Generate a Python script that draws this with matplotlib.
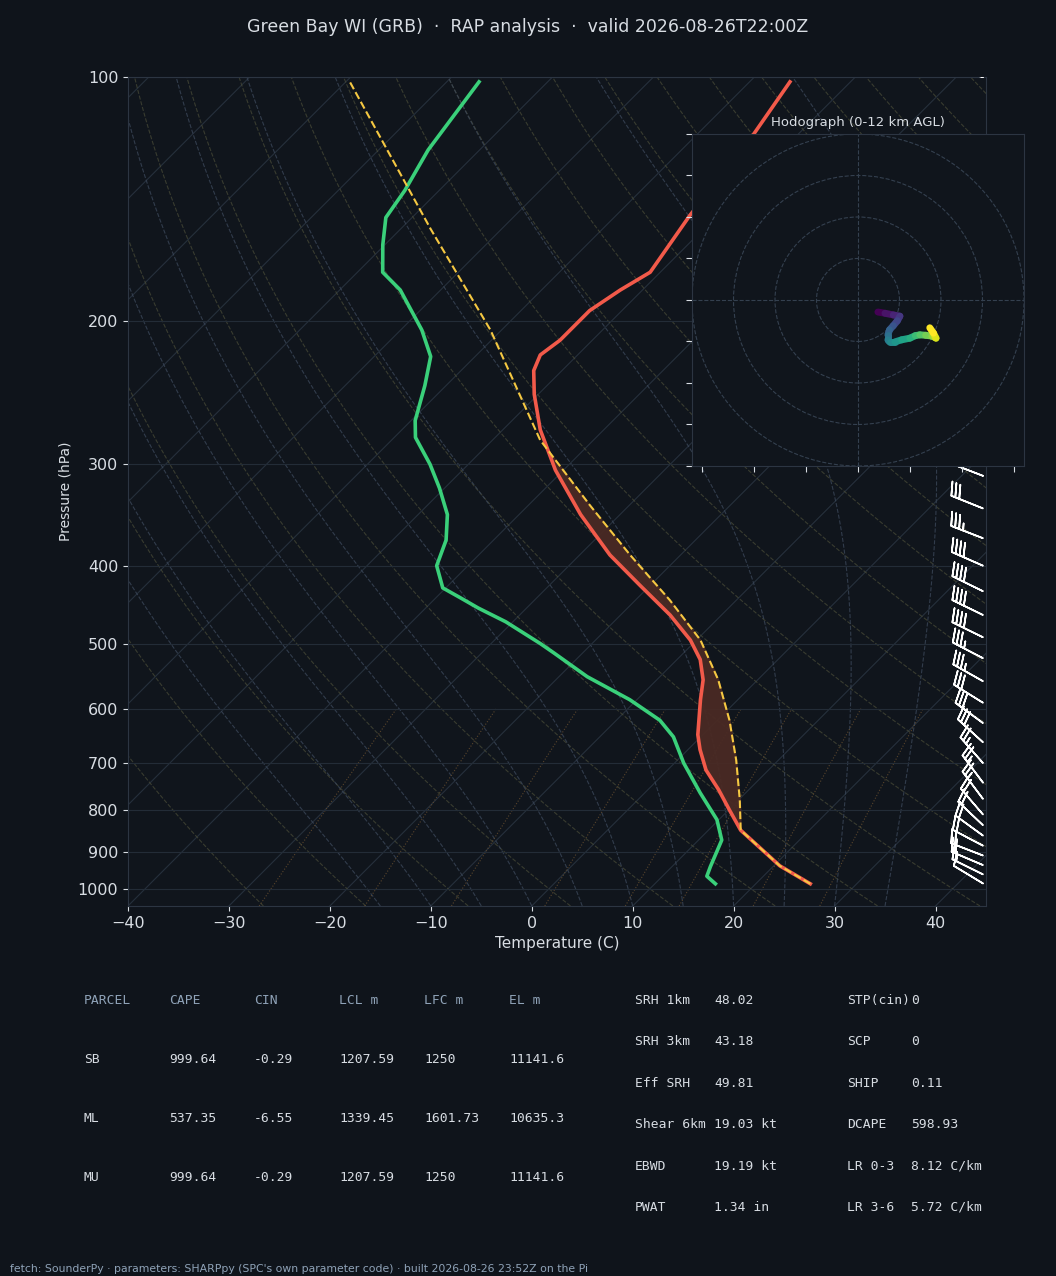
import numpy as np
import matplotlib.pyplot as plt
from matplotlib.collections import LineCollection

# sounding
pres = [986, 937, 847, 800, 755, 714, 674, 646, 585, 553, 522, 494, 460, 423, 388, 346,
        305, 272, 246, 230, 220, 211, 194, 183, 174, 148, 120, 101.4]
temp = [25.4, 20.6, 13.2, 10.1, 7.0, 3.8, 1.2, -0.5, -3.7, -5.4, -7.7, -10.6, -15.1, -21.0,
        -27.0, -33.9, -40.8, -46.3, -50.4, -52.8, -53.7, -53.2, -53.2, -52.2, -51.0, -52.7,
        -54.2, -56.0]
dp_pres = [986, 965, 939, 871, 822, 762, 700, 650, 620, 585, 548, 512, 499, 469, 451, 438,
           426, 400, 372, 346, 321, 300, 278, 265, 240, 221, 205, 183, 174, 161, 149, 138,
           123, 101.4]
dewp = [16.0, 14.4, 13.8, 12.3, 9.8, 5.5, 0.9, -2.7, -5.7, -10.7, -17.2, -22.9, -25.1,
        -30.7, -34.8, -37.6, -40.3, -43.1, -44.7, -47.1, -50.5, -53.8, -57.9, -59.6, -62.1,
        -64.4, -67.9, -74.0, -77.5, -80.2, -82.6, -83.4, -85.1, -86.8]
parcel_p = [986, 937, 847, 777, 694, 620, 553, 494, 441, 388, 337, 280, 205, 154, 101.4]
parcel_t = [25.4, 20.6, 13.2, 10.1, 5.8, 1.2, -3.9, -9.6, -16.6, -25.0, -33.9, -45.3,
            -61.1, -77.0, -99.6]

wind_p = [985, 960, 935, 910, 885, 860, 835, 810, 775, 740, 700, 660, 625, 590, 555, 520,
          490, 460, 430, 400, 370, 340, 310, 280, 250, 225, 200, 175, 150, 125, 100]
wind_u = [4.8, 6.5, 8.5, 10.1, 9.5, 8.5, 7.6, 7.2, 7.2, 7.6, 8.9, 10.5, 12.5, 13.8, 14.9,
          16.3, 17.8, 18.5, 18.8, 18.2, 17.3, 15, 13, 12, 11, 10, 9, 8, 7, 6, 5]
wind_v = [-2.9, -3.2, -3.6, -3.9, -5.0, -6.2, -7.2, -8.4, -9.6, -10.1, -10.1, -9.6, -9.2,
          -8.6, -8.4, -8.5, -8.7, -9.0, -9.2, -8.0, -6.7, -6, -5, -4, -3.5, -3, -2.5, -2,
          -1.5, -1, -1]
n_hodo = 21

parcels = ["SB", "ML", "MU"]
cols = ["PARCEL", "CAPE", "CIN", "LCL m", "LFC m", "EL m"]
rows = [["999.64", "-0.29", "1207.59", "1250", "11141.6"],
        ["537.35", "-6.55", "1339.45", "1601.73", "10635.3"],
        ["999.64", "-0.29", "1207.59", "1250", "11141.6"]]
mid_names = ["SRH 1km", "SRH 3km", "Eff SRH", "Shear 6km", "EBWD", "PWAT"]
mid_vals = ["48.02", "43.18", "49.81", "19.03 kt", "19.19 kt", "1.34 in"]
right_names = ["STP(cin)", "SCP", "SHIP", "DCAPE", "LR 0-3", "LR 3-6"]
right_vals = ["0", "0", "0.11", "598.93", "8.12 C/km", "5.72 C/km"]

BG = "#0f141b"
FG = "#d8dde3"
DIM = "#8fa3b8"
K = 34.9
PBOT = 1050.0


def skx(t, p):
    return np.asarray(t, float) + K * np.log(PBOT / np.asarray(p, float))


fig = plt.figure(figsize=(10.56, 12.76), dpi=100, facecolor=BG)
ax = fig.add_axes([0.1212, 0.29, 0.8125, 0.6497], facecolor="#10151c")
ax.set_yscale("log")
ax.set_ylim(PBOT, 100)
ax.set_xlim(-40, 45)

# background lines
pp = np.geomspace(1050, 100, 120)
for t0 in range(-120, 60, 10):
    ax.plot(skx(np.full_like(pp, t0), pp), pp, color="#26303c", lw=0.8, zorder=1)
for th in range(-30, 200, 10):
    t = (th + 273.15) * (pp / 1000) ** 0.286 - 273.15
    ax.plot(skx(t, pp), pp, color="#4a4c38", lw=0.8, ls="--", alpha=0.7, zorder=1)


def esat(t):
    return 6.112 * np.exp(17.67 * t / (t + 243.5))


for t0 in range(-15, 40, 5):
    ts = [t0]
    T = t0
    for i in range(1, len(pp)):
        Tk = T + 273.15
        rs = 0.622 * esat(T) / (pp[i - 1] - esat(T))
        dtdp = (287 * Tk + 2.5e6 * rs) / (1004 + 2.5e6 ** 2 * rs * 0.622 / (287 * Tk ** 2)) / pp[i - 1]
        T = T + dtdp * (pp[i] - pp[i - 1])
        ts.append(T)
    ax.plot(skx(ts, pp), pp, color="#3a4658", lw=0.8, ls="--", alpha=0.8, zorder=1)
pm = np.geomspace(1050, 600, 30)
for w in [0.4, 1, 2, 4, 7, 10, 16, 24]:
    e = w / 1000 * pm / (0.622 + w / 1000)
    td = 243.5 * np.log(e / 6.112) / (17.67 - np.log(e / 6.112))
    ax.plot(skx(td, pm), pm, color="#6a5030", lw=0.8, ls=":", alpha=0.8, zorder=1)

for p in [100, 200, 300, 400, 500, 600, 700, 800, 900, 1000]:
    ax.axhline(p, color="#232c37", lw=0.8, zorder=1)

# CAPE shading
pg = np.geomspace(985, 102, 400)
lp = np.log(pg)
xe = skx(np.interp(lp, np.log(pres[::-1]), temp[::-1]), pg)
xp = skx(np.interp(lp, np.log(parcel_p[::-1]), parcel_t[::-1]), pg)
ax.fill_betweenx(pg, xe, xp, where=xp > xe, color="#4a2a24", alpha=0.95, zorder=2)

ax.plot(skx(temp, pres), pres, color="#f25a4a", lw=2.6, zorder=4)
ax.plot(skx(dewp, dp_pres), dp_pres, color="#3ad07a", lw=2.6, zorder=4)
ax.plot(skx(parcel_t, parcel_p), parcel_p, color="#f5c842", lw=1.5, ls="--", zorder=5)

spd = 1.94
ax.barbs(np.full(len(wind_p), 44.7), wind_p, np.array(wind_u) * spd, np.array(wind_v) * spd,
         color="white", length=7, lw=1.2, zorder=6)

ax.set_xticks(range(-40, 41, 10))
ax.set_yticks([100, 200, 300, 400, 500, 600, 700, 800, 900, 1000])
ax.set_yticklabels(["100", "200", "300", "400", "500", "600", "700", "800", "900", "1000"])
ax.minorticks_off()
ax.tick_params(colors=FG, labelsize=11.5)
ax.set_xlabel("Temperature (C)", color=FG, fontsize=11)
ax.set_ylabel("Pressure (hPa)", color=FG, fontsize=10)
for s in ax.spines.values():
    s.set_color("#2c3542")

# hodograph
hx = fig.add_axes([0.6553, 0.6348, 0.3144, 0.2602], facecolor="#10151c")
for r in [10, 20, 30, 40]:
    hx.add_patch(plt.Circle((0, 0), r, fill=False, color="#34404f", lw=0.8, ls="--"))
hx.axhline(0, color="#34404f", lw=0.8, ls="--")
hx.axvline(0, color="#34404f", lw=0.8, ls="--")
hu = np.array(wind_u[:n_hodo])
hv = np.array(wind_v[:n_hodo])
segs = np.stack([np.column_stack([hu[:-1], hv[:-1]]), np.column_stack([hu[1:], hv[1:]])], axis=1)
lc = LineCollection(segs, cmap="viridis", lw=5, capstyle="round")
lc.set_array(np.arange(n_hodo - 1))
hx.add_collection(lc)
hx.set_xlim(-40, 40)
hx.set_ylim(-40, 40)
hx.set_xticks(np.arange(-37.5, 40, 12.5))
hx.set_yticks(np.arange(-40, 41, 10))
hx.tick_params(colors=FG, labelleft=False, labelbottom=False, length=4)
for s in hx.spines.values():
    s.set_color("#2c3542")
hx.set_title("Hodograph (0-12 km AGL)", color=FG, fontsize=9.5, pad=6)

fig.text(0.5, 1 - 27 / 1276, "Green Bay WI (GRB)  \u00b7  RAP analysis  \u00b7  valid 2026-08-26T22:00Z",
         color=FG, fontsize=12.5, ha="center", va="center")

W, H = 1056, 1276
mono = dict(family="DejaVu Sans Mono", fontsize=9.4, va="baseline")
off = 4
colx = [84, 169, 254, 339, 424, 509]
for x, c in zip(colx, cols):
    fig.text(x / W, 1 - (1000 + off) / H, c, color=DIM, **mono)
for i, (name, vals) in enumerate(zip(parcels, rows)):
    y = 1 - (1059 + 59 * i + off) / H
    fig.text(colx[0] / W, y, name, color=FG, **mono)
    for x, v in zip(colx[1:], vals):
        fig.text(x / W, y, v, color=FG, **mono)
for i in range(6):
    y = 1 - (1000 + 41.4 * i + off) / H
    fig.text(635 / W, y, mid_names[i], color=FG, **mono)
    fig.text(714 / W, y, mid_vals[i], color=FG, **mono)
    fig.text(847 / W, y, right_names[i], color=FG, **mono)
    fig.text(911 / W, y, right_vals[i], color=FG, **mono)

fig.text(10 / W, 1 - 1269 / H,
         "fetch: SounderPy \u00b7 parameters: SHARPpy (SPC's own parameter code) \u00b7 built 2026-08-26 23:52Z on the Pi",
         color=DIM, fontsize=7.8, va="center")

fig.savefig("out.png", dpi=100, facecolor=BG)
